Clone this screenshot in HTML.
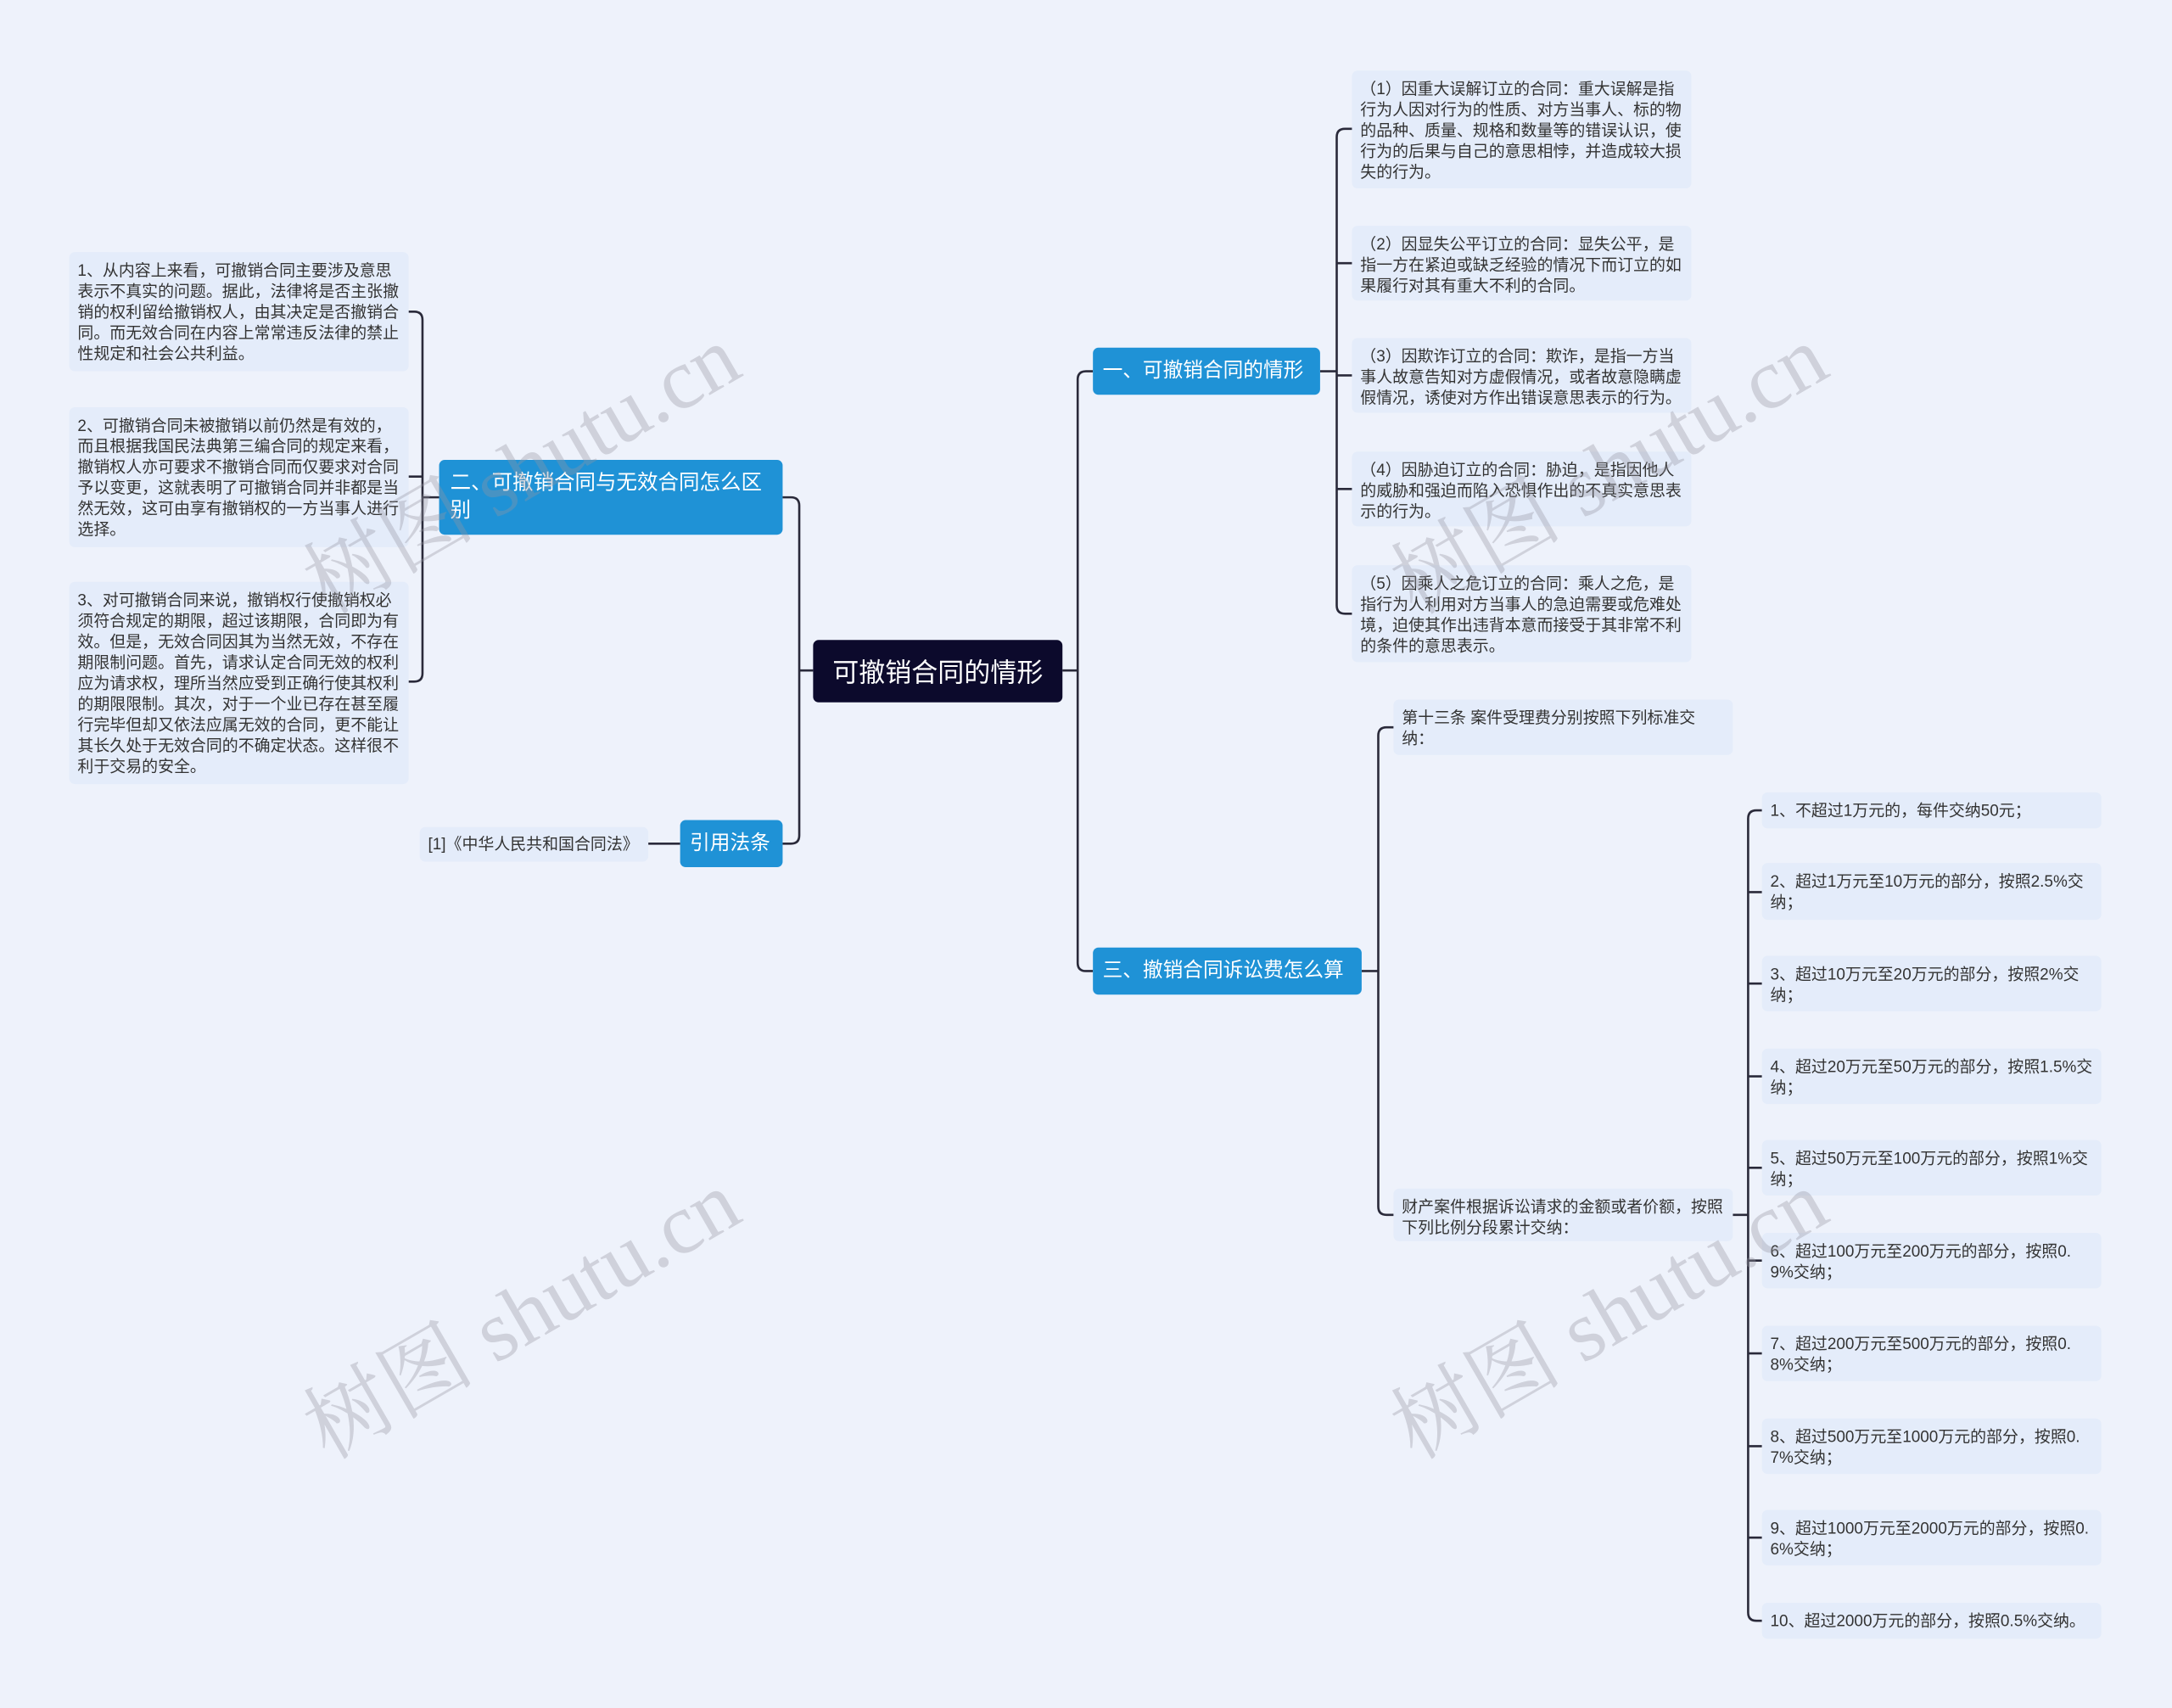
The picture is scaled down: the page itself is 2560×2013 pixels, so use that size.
<!DOCTYPE html>
<html><head><meta charset="utf-8"><style>
html,body{margin:0;padding:0;background:#eef2fb;}
#wrap{width:2560px;height:2013px;overflow:hidden;position:relative;background:#eef2fb;}
#c{position:absolute;left:0;top:0;width:1568px;height:1233px;transform:scale(1.63265);transform-origin:0 0;font-family:"Liberation Sans","Noto Sans CJK SC",sans-serif;}
.n{position:absolute;box-sizing:border-box;}
.root{background:#0c0a2c;color:#fff;font-size:19px;border-radius:4px;display:flex;align-items:center;justify-content:center;white-space:nowrap;}
.b{background:#1f92d6;color:#fff;font-size:14.5px;border-radius:4px;padding:0 7px;display:flex;align-items:center;line-height:20px;}
.nw{white-space:nowrap;}
.l{background:#e4ecfa;color:#333;font-size:11.6px;line-height:15px;border-radius:4px;padding:6px 6px 5px 6px;}
.wm{position:absolute;font-size:62px;color:rgba(150,150,160,0.35);transform:rotate(-30deg);white-space:nowrap;font-family:"Liberation Serif","Noto Serif CJK SC",serif;}
</style></head><body><div id="wrap"><div id="c">
<svg width="1568" height="1233" style="position:absolute;left:0;top:0" fill="none" stroke="#2a2a3a" stroke-width="1.6">
<path d="M767 484H778"/><path d="M789 268H784Q778 268 778 274V695Q778 701 784 701H789"/>
<path d="M587 484H577"/><path d="M565 359H571Q577 359 577 365V603Q577 609 571 609H565"/>
<path d="M491 609H468"/>
<path d="M953 268H965"/><path d="M976 93H971Q965 93 965 99V437Q965 443 971 443H976"/>
<path d="M965 190H976M965 271H976M965 353H976"/>
<path d="M317 359H305"/><path d="M295 225H299Q305 225 305 231V486Q305 492 299 492H295"/>
<path d="M295 344H305"/>
<path d="M983 701H995"/><path d="M1006 525H1001Q995 525 995 531V871Q995 877 1001 877H1006"/>
<path d="M1250 877H1262"/><path d="M1272 585H1268Q1262 585 1262 591V1164Q1262 1170 1268 1170H1272"/>
<path d="M1262 644H1272M1262 710H1272M1262 777H1272M1262 843H1272M1262 910H1272M1262 977H1272M1262 1044H1272M1262 1110H1272"/>
</svg>
<div class="n root" style="left:587px;top:462px;width:180px;height:45px">可撤销合同的情形</div>
<div class="n b nw" style="left:789px;top:251px;width:164px;height:34px">一、可撤销合同的情形</div>
<div class="n b nw" style="left:789px;top:684px;width:194px;height:34px">三、撤销合同诉讼费怎么算</div>
<div class="n b" style="left:317px;top:332px;width:248px;height:54px;font-size:15px;padding:0 8px">二、可撤销合同与无效合同怎么区别</div>
<div class="n b nw" style="left:491px;top:592px;width:74px;height:34px">引用法条</div>
<div class="n l nw" style="left:303px;top:597px;width:165px;height:25px;padding-top:5px">[1]《中华人民共和国合同法》</div>
<div class="n l" style="left:50px;top:182px;width:245px;height:86px">1、从内容上来看，可撤销合同主要涉及意思表示不真实的问题。据此，法律将是否主张撤销的权利留给撤销权人，由其决定是否撤销合同。而无效合同在内容上常常违反法律的禁止性规定和社会公共利益。</div>
<div class="n l" style="left:50px;top:294px;width:245px;height:101px">2、可撤销合同未被撤销以前仍然是有效的，而且根据我国民法典第三编合同的规定来看，撤销权人亦可要求不撤销合同而仅要求对合同予以变更，这就表明了可撤销合同并非都是当然无效，这可由享有撤销权的一方当事人进行选择。</div>
<div class="n l" style="left:50px;top:420px;width:245px;height:146px">3、对可撤销合同来说，撤销权行使撤销权必须符合规定的期限，超过该期限，合同即为有效。但是，无效合同因其为当然无效，不存在期限制问题。首先，请求认定合同无效的权利应为请求权，理所当然应受到正确行使其权利的期限限制。其次，对于一个业已存在甚至履行完毕但却又依法应属无效的合同，更不能让其长久处于无效合同的不确定状态。这样很不利于交易的安全。</div>
<div class="n l" style="left:976px;top:51px;width:245px;height:85px">（1）因重大误解订立的合同：重大误解是指行为人因对行为的性质、对方当事人、标的物的品种、质量、规格和数量等的错误认识，使行为的后果与自己的意思相悖，并造成较大损失的行为。</div>
<div class="n l" style="left:976px;top:163px;width:245px;height:54px">（2）因显失公平订立的合同：显失公平，是指一方在紧迫或缺乏经验的情况下而订立的如果履行对其有重大不利的合同。</div>
<div class="n l" style="left:976px;top:244px;width:245px;height:54px">（3）因欺诈订立的合同：欺诈，是指一方当事人故意告知对方虚假情况，或者故意隐瞒虚假情况，诱使对方作出错误意思表示的行为。</div>
<div class="n l" style="left:976px;top:326px;width:245px;height:54px">（4）因胁迫订立的合同：胁迫，是指因他人的威胁和强迫而陷入恐惧作出的不真实意思表示的行为。</div>
<div class="n l" style="left:976px;top:408px;width:245px;height:70px">（5）因乘人之危订立的合同：乘人之危，是指行为人利用对方当事人的急迫需要或危难处境，迫使其作出违背本意而接受于其非常不利的条件的意思表示。</div>
<div class="n l" style="left:1006px;top:505px;width:245px;height:40px">第十三条 案件受理费分别按照下列标准交纳：</div>
<div class="n l" style="left:1006px;top:858px;width:245px;height:38px">财产案件根据诉讼请求的金额或者价额，按照下列比例分段累计交纳：</div>
<div class="n l" style="left:1272px;top:572px;width:245px;height:26px">1、不超过1万元的，每件交纳50元；</div>
<div class="n l" style="left:1272px;top:623px;width:245px;height:41px">2、超过1万元至10万元的部分，按照2.5%交纳；</div>
<div class="n l" style="left:1272px;top:690px;width:245px;height:40px">3、超过10万元至20万元的部分，按照2%交纳；</div>
<div class="n l" style="left:1272px;top:757px;width:245px;height:40px">4、超过20万元至50万元的部分，按照1.5%交纳；</div>
<div class="n l" style="left:1272px;top:823px;width:245px;height:40px">5、超过50万元至100万元的部分，按照1%交纳；</div>
<div class="n l" style="left:1272px;top:890px;width:245px;height:40px;word-break:break-all">6、超过100万元至200万元的部分，按照0.9%交纳；</div>
<div class="n l" style="left:1272px;top:957px;width:245px;height:40px;word-break:break-all">7、超过200万元至500万元的部分，按照0.8%交纳；</div>
<div class="n l" style="left:1272px;top:1024px;width:245px;height:40px;word-break:break-all">8、超过500万元至1000万元的部分，按照0.7%交纳；</div>
<div class="n l" style="left:1272px;top:1090px;width:245px;height:40px;word-break:break-all">9、超过1000万元至2000万元的部分，按照0.6%交纳；</div>
<div class="n l nw" style="left:1272px;top:1157px;width:245px;height:26px">10、超过2000万元的部分，按照0.5%交纳。</div>
<div class="wm" style="left:200px;top:290px">树图 shutu.cn</div>
<div class="wm" style="left:985px;top:290px">树图 shutu.cn</div>
<div class="wm" style="left:200px;top:900px">树图 shutu.cn</div>
<div class="wm" style="left:985px;top:900px">树图 shutu.cn</div>
</div></div></body></html>
